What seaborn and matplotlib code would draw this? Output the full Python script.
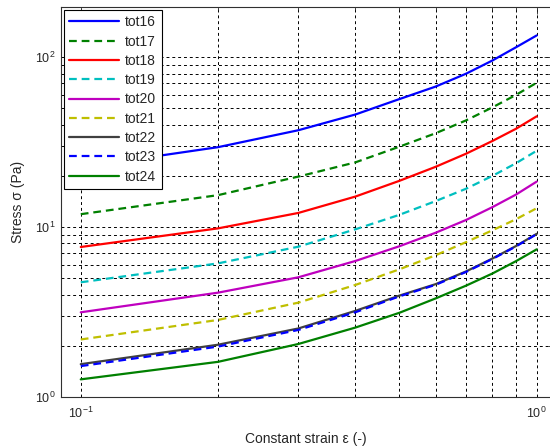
import numpy as np
import pandas as pd
import matplotlib
matplotlib.use("Agg")
import matplotlib.pyplot as plt
import seaborn as sns
from matplotlib.ticker import LogLocator, NullFormatter

strain = [0.1, 0.2, 0.3, 0.4, 0.5, 0.6, 0.7, 0.8, 0.9, 1.0]
tot16 = [22.5, 29.5, 37.1, 45.9, 56.6, 67.0, 79.8, 95.5, 114.0, 134.0]
tot17 = [11.9, 15.4, 19.8, 24.0, 29.7, 35.6, 42.4, 50.6, 59.8, 70.6]
tot18 = [7.63, 9.82, 12.1, 15.1, 18.7, 22.6, 27.0, 32.1, 37.8, 44.8]
tot19 = [4.73, 6.11, 7.66, 9.69, 11.8, 14.2, 16.8, 20.0, 23.7, 28.1]
tot20 = [3.15, 4.11, 5.06, 6.31, 7.71, 9.25, 11.0, 13.1, 15.5, 18.5]
tot21 = [2.18, 2.84, 3.59, 4.56, 5.64, 6.82, 8.15, 9.57, 11.1, 12.9]
tot22 = [1.56, 2.03, 2.53, 3.21, 3.95, 4.61, 5.48, 6.53, 7.72, 9.12]
tot23 = [1.52, 1.98, 2.48, 3.15, 3.91, 4.57, 5.44, 6.49, 7.68, 9.08]
tot24 = [1.27, 1.61, 2.05, 2.56, 3.13, 3.80, 4.52, 5.33, 6.29, 7.39]

names = ["tot16", "tot17", "tot18", "tot19", "tot20", "tot21", "tot22", "tot23", "tot24"]
values = [tot16, tot17, tot18, tot19, tot20, tot21, tot22, tot23, tot24]
colors = ["#0000ff", "#008000", "#ff0000", "#00bfbf", "#bf00bf", "#bfbf00", "#404040", "#0000ff", "#008000"]
styles = ["-", "--", "-", "--", "-", "--", "-", "--", "-"]

df = pd.DataFrame({
    "strain": np.tile(strain, len(names)),
    "stress": np.concatenate(values),
    "series": np.repeat(names, len(strain)),
})

sns.set_style("white")
plt.rcParams["font.family"] = ["Liberation Sans", "DejaVu Sans"]
plt.rcParams["mathtext.default"] = "regular"

fig = plt.figure(figsize=(5.5, 4.46), dpi=100)
W, H = 550, 446
left, right, top, bottom = 61, 551, 7, 397
ax = fig.add_axes([left / W, 1 - bottom / H, (right - left) / W, (bottom - top) / H])

for name, c, ls in zip(names, colors, styles):
    sub = df[df["series"] == name]
    sns.lineplot(data=sub, x="strain", y="stress", ax=ax, color=c, linestyle=ls,
                 linewidth=1.6, label=name, zorder=3)
    if ls == "--":
        ax.lines[-1].set_dashes((3.5, 2.2))

ax.set_xscale("log")
ax.set_yscale("log")
ax.set_xlim(0.0905, 1.075)
ax.set_ylim(1, 197)

ax.xaxis.set_major_locator(LogLocator(base=10))
ax.xaxis.set_minor_locator(LogLocator(base=10, subs=np.arange(2, 10)))
ax.yaxis.set_major_locator(LogLocator(base=10))
ax.yaxis.set_minor_locator(LogLocator(base=10, subs=np.arange(2, 10)))
ax.xaxis.set_minor_formatter(NullFormatter())
ax.yaxis.set_minor_formatter(NullFormatter())

ax.grid(True, which="both", color="black", linestyle=(0, (3, 3)), linewidth=0.7)
ax.set_axisbelow(True)

ax.tick_params(which="major", direction="in", length=5, width=0.6, labelsize=9, top=True, right=True)
ax.tick_params(which="minor", direction="in", length=2.5, width=0.6, top=True, right=True)
ax.tick_params(axis="x", pad=6)
ax.tick_params(axis="y", pad=4)

for s in ax.spines.values():
    s.set_color("#303030")
    s.set_linewidth(0.8)

ax.set_xlabel("Constant strain ε (-)", fontsize=10, labelpad=8)
ax.set_ylabel("Stress σ (Pa)", fontsize=10, labelpad=7)

leg = ax.legend(loc="upper left", fontsize=10, frameon=True, fancybox=False,
                edgecolor="black", framealpha=1, borderaxespad=0.2,
                handlelength=3.6, handletextpad=0.4, labelspacing=0.38,
                borderpad=0.4)
leg.get_frame().set_linewidth(0.8)

fig.savefig("out.png", dpi=100)
